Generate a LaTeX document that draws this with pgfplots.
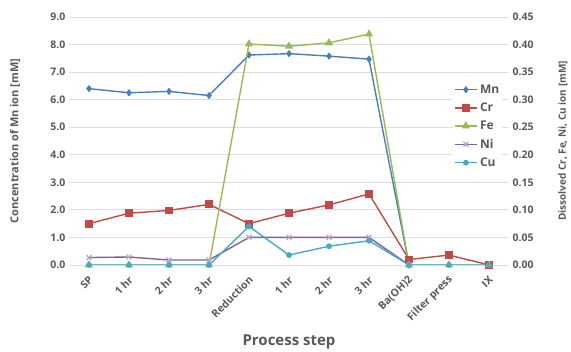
\documentclass[border=0pt]{standalone}
\usepackage{pgfplots}
\pgfplotsset{compat=1.18}
\usepackage{fontspec}
\setmainfont{Open Sans}
\definecolor{mn}{HTML}{4A7EBB}
\definecolor{cr}{HTML}{BE4B48}
\definecolor{fe}{HTML}{98B954}
\definecolor{ni}{HTML}{7D60A0}
\definecolor{cu}{HTML}{46AAC5}
\definecolor{txt}{HTML}{595959}
\definecolor{gridc}{HTML}{DDDDDD}
\pgfplotsset{
  common/.style={
    at={(69pt,87pt)}, anchor=south west,
    scale only axis, width=440pt, height=248pt,
    xmin=-0.5, xmax=10.5,
    axis line style={draw=none}, tick style={draw=none},
    /pgf/number format/assume math mode=true,
    ticklabel style={font=\bfseries\fontsize{10.5}{12}\selectfont, text=txt},
  },
  mnstyle/.style={mn, line width=1.4pt, mark=diamond*, mark size=2.6pt, mark options={fill=mn, draw=mn}},
  crstyle/.style={cr, line width=1.4pt, mark=square*, mark size=3.2pt, mark options={fill=cr, draw=cr}},
  festyle/.style={fe, line width=1.4pt, mark=triangle*, mark size=3.4pt, mark options={fill=fe, draw=fe}},
  nistyle/.style={ni, line width=1.4pt, mark=x, mark size=3.4pt, mark options={draw=ni!55}},
  custyle/.style={cu, line width=1.4pt, mark=*, mark size=2.2pt, mark options={fill=cu, draw=cu}},
}
\begin{document}
\begin{tikzpicture}
\useasboundingbox (0,0) rectangle (571pt,352pt);
\begin{axis}[common,
  ymin=0, ymax=9, ytick={0,1,...,9},
  yticklabel style={/pgf/number format/.cd, fixed, fixed zerofill, precision=1},
  ymajorgrids, grid style={gridc, line width=0.8pt},
  xtick={0,...,10},
  xticklabels={SP,1 hr,2 hr,3 hr,Reduction,1 hr,2 hr,3 hr,Ba(OH)2,Filter press,IX},
  xticklabel shift=0pt,
  xticklabel style={yshift=-13pt, xshift=2pt, rotate=45, anchor=east, inner sep=0pt},
  xlabel={Process step},
  xlabel style={at={(axis description cs:0.5,-0.31)}, anchor=center,
    font=\bfseries\fontsize{15}{17}\selectfont, text=txt},
  ylabel={Concentration of Mn ion [mM]},
  ylabel style={at={(axis description cs:-0.1227,0.5)}, anchor=center,
    font=\bfseries\fontsize{11}{13}\selectfont, text=txt},
]
\addplot[mnstyle] coordinates {(0,6.40) (1,6.25) (2,6.30) (3,6.15) (4,7.62) (5,7.67) (6,7.58) (7,7.47) (8,0.0)};
\end{axis}
\begin{axis}[common,
  ymin=0, ymax=0.45, ytick={0,0.05,...,0.46},
  yticklabel style={/pgf/number format/.cd, fixed, fixed zerofill, precision=2},
  axis y line*=right, xtick=\empty,
  ylabel={Dissolved Cr, Fe, Ni, Cu ion [mM]},
  ylabel style={at={(axis description cs:1.1227,0.5)}, anchor=center,
    font=\bfseries\fontsize{10}{12}\selectfont, text=txt},
  legend style={at={(0.985,0.74)}, anchor=north east, draw=none, fill=white, fill opacity=1,
    font=\bfseries\fontsize{12}{14}\selectfont, text=txt, row sep=4pt, inner sep=1pt},
  legend cell align=left,
  legend image code/.code={\draw[mark repeat=2,mark phase=2,#1] plot coordinates {(0cm,0cm) (0.4cm,0cm) (0.8cm,0cm)};},
]
\addlegendimage{mnstyle}
\addlegendentry{Mn}
\addplot[crstyle] coordinates {(0,0.075) (1,0.094) (2,0.099) (3,0.110) (4,0.075) (5,0.094) (6,0.109) (7,0.129) (8,0.010) (9,0.018) (10,0.0)};
\addlegendentry{Cr}
\addplot[festyle] coordinates {(0,0) (1,0) (2,0) (3,0) (4,0.401) (5,0.397) (6,0.403) (7,0.419) (8,0) (9,0) (10,0)};
\addlegendentry{Fe}
\addplot[nistyle] coordinates {(0,0.0135) (1,0.0145) (2,0.009) (3,0.009) (4,0.050) (5,0.050) (6,0.050) (7,0.050) (8,0)};
\addlegendentry{Ni}
\addplot[custyle] coordinates {(0,0) (1,0) (2,0) (3,0) (4,0.070) (5,0.018) (6,0.034) (7,0.044) (8,0) (9,0) (10,0)};
\addlegendentry{Cu}
\end{axis}
\end{tikzpicture}
\end{document}
